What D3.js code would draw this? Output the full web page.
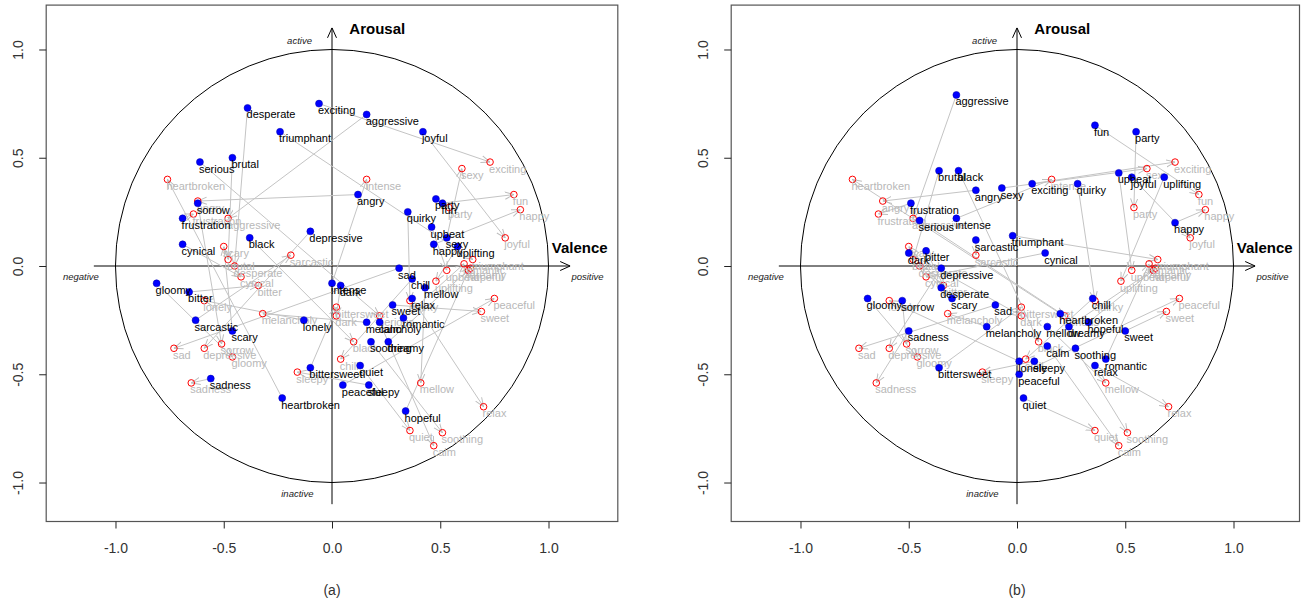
<!DOCTYPE html>
<html>
<head>
<meta charset="utf-8">
<title>Valence / Arousal</title>
<script src="https://d3js.org/d3.v7.min.js"></script>
<style>
  body { margin: 0; background: #fff; }
  svg { font-family: "Liberation Sans", Arial, sans-serif; }
</style>
</head>
<body>
<svg id="chart" width="1301" height="600"></svg>
<script>

// mood words, reference (red) positions and the two estimated (blue) sets
var words = ["heartbroken","angry","frustration","aggressive","scary","brutal","desperate","cynical","bitter","sarcastic",
  "melancholy","lonely","sad","depressive","sorrow","gloomy","sadness","sleepy","bittersweet","dark",
  "black","chill","serious","exciting","sexy","intense","fun","party","happy","joyful",
  "romantic","triumphant","hopeful","dreamy","upbeat","uplifting","quirky","peaceful","sweet","mellow",
  "relax","quiet","soothing","calm"];

var valenceTrue = [-0.76,-0.62,-0.64,-0.48,-0.50,-0.48,-0.45,-0.42,-0.34,-0.19,
  -0.32,-0.59,-0.73,-0.59,-0.51,-0.46,-0.65,-0.16,0.02,0.02,
  0.10,0.04,0.22,0.73,0.60,0.16,0.84,0.54,0.87,0.80,
  0.61,0.65,0.63,0.64,0.53,0.48,0.36,0.75,0.69,0.41,
  0.70,0.36,0.51,0.47];
var arousalTrue = [0.40,0.30,0.24,0.22,0.09,0.03,0.00,-0.05,-0.09,0.05,
  -0.22,-0.16,-0.38,-0.38,-0.36,-0.42,-0.54,-0.49,-0.19,-0.23,
  -0.35,-0.43,-0.23,0.48,0.45,0.40,0.33,0.27,0.26,0.13,
  0.01,0.03,-0.02,-0.01,-0.02,-0.07,-0.16,-0.15,-0.21,-0.54,
  -0.65,-0.76,-0.77,-0.83];

// panel (a)
var valenceA = [-0.23,0.12,-0.69,0.16,-0.46,-0.46,-0.39,-0.69,-0.66,-0.63,
  0.16,-0.13,0.31,-0.10,-0.62,-0.81,-0.56,0.17,-0.10,0.04,
  -0.38,0.37,-0.61,-0.06,0.53,0.00,0.51,0.48,0.47,0.42,
  0.33,-0.24,0.34,0.26,0.46,0.58,0.35,0.05,0.28,0.43,
  0.37,0.13,0.18,0.22];
var arousalA = [-0.61,0.33,0.22,0.70,-0.30,0.50,0.73,0.10,-0.12,-0.25,
  -0.26,-0.25,-0.01,0.16,0.29,-0.08,-0.52,-0.55,-0.47,-0.09,
  0.13,-0.06,0.48,0.75,0.13,-0.08,0.29,0.31,0.10,0.62,
  -0.24,0.62,-0.67,-0.35,0.18,0.09,0.25,-0.55,-0.18,-0.10,
  -0.15,-0.46,-0.35,-0.26];

// panel (b)
var valenceB = [0.20,-0.19,-0.49,-0.28,-0.30,-0.36,-0.35,0.13,-0.42,-0.19,
  -0.14,0.01,-0.10,-0.35,-0.53,-0.69,-0.50,0.08,-0.36,-0.50,
  -0.27,0.35,-0.45,0.07,-0.07,-0.28,0.36,0.55,0.73,0.53,
  0.41,-0.02,0.33,0.24,0.47,0.68,0.28,0.01,0.50,0.14,
  0.36,0.03,0.27,0.14];
var arousalB = [-0.22,0.35,0.29,0.79,-0.15,0.44,-0.10,0.06,0.07,0.12,
  -0.28,-0.44,-0.18,-0.01,-0.16,-0.15,-0.30,-0.44,-0.47,0.06,
  0.44,-0.15,0.21,0.38,0.36,0.22,0.65,0.62,0.20,0.41,
  -0.43,0.14,-0.26,-0.28,0.43,0.41,0.38,-0.50,-0.30,-0.28,
  -0.46,-0.61,-0.38,-0.37];

var tickValues = [-1.0, -0.5, 0.0, 0.5, 1.0];

var svg = d3.select("#chart");

svg.append("defs").append("marker")
    .attr("id", "head")
    .attr("viewBox", "0 0 10 10")
    .attr("refX", 10).attr("refY", 5)
    .attr("markerWidth", 9).attr("markerHeight", 9)
    .attr("markerUnits", "userSpaceOnUse")
    .attr("orient", "auto")
  .append("path")
    .attr("d", "M0,1 L10,5 L0,9")
    .attr("fill", "none")
    .attr("stroke", "#bdbdbd")
    .attr("stroke-width", 1.1);

svg.select("defs").append("marker")
    .attr("id", "axhead")
    .attr("viewBox", "0 0 10 10")
    .attr("refX", 10).attr("refY", 5)
    .attr("markerWidth", 10).attr("markerHeight", 10)
    .attr("markerUnits", "userSpaceOnUse")
    .attr("orient", "auto")
  .append("path")
    .attr("d", "M0,0.5 L10,5 L0,9.5")
    .attr("fill", "none")
    .attr("stroke", "#000")
    .attr("stroke-width", 1);

function drawPanel(left, valEst, aroEst, tag) {
  var x = d3.scaleLinear().domain([-1.32, 1.32]).range([left, left + 571.6]);
  var y = d3.scaleLinear().domain([-1.18, 1.205]).range([521.5, 5.1]);
  var g = svg.append("g");

  var boxRight = Math.min(x(1.32), 1299.5);
  g.append("rect")
      .attr("x", x(-1.32)).attr("y", y(1.205))
      .attr("width", boxRight - x(-1.32)).attr("height", y(-1.18) - y(1.205))
      .attr("fill", "none").attr("stroke", "#555").attr("stroke-width", 1.2);

  // axes
  var xa = g.append("g").attr("transform", "translate(0," + y(-1.18) + ")")
      .call(d3.axisBottom(x).tickValues(tickValues).tickSize(7).tickFormat(function(d){ return d.toFixed(1); }));
  var ya = g.append("g").attr("transform", "translate(" + x(-1.32) + ",0)")
      .call(d3.axisLeft(y).tickValues(tickValues).tickSize(7).tickFormat(function(d){ return d.toFixed(1); }));
  [xa, ya].forEach(function(a){
    a.select(".domain").remove();
    a.selectAll("line").attr("stroke", "#222");
    a.selectAll("text").attr("fill", "#333").style("font-size", "14px")
      .style("font-family", "'Liberation Sans', Arial, sans-serif");
  });
  xa.selectAll("text").attr("y", 22);
  ya.selectAll("text").attr("x", 0).attr("dy", 0).attr("text-anchor", "middle")
    .attr("transform", "translate(-23,0) rotate(-90)");

  // unit circle and cross
  g.append("circle").attr("cx", x(0)).attr("cy", y(0)).attr("r", x(1) - x(0))
      .attr("fill", "none").attr("stroke", "#000").attr("stroke-width", 1);
  g.append("line").attr("x1", x(-1.1)).attr("y1", y(0)).attr("x2", x(1.1)).attr("y2", y(0))
      .attr("stroke", "#000").attr("stroke-width", 1).attr("marker-end", "url(#axhead)");
  g.append("line").attr("x1", x(0)).attr("y1", y(-1.1)).attr("x2", x(0)).attr("y2", y(1.1))
      .attr("stroke", "#000").attr("stroke-width", 1).attr("marker-end", "url(#axhead)");

  g.append("text").attr("x", x(0.08)).attr("y", y(1.09) + 4).text("Arousal")
      .style("font-size", "15px").style("font-weight", "bold").attr("fill", "#000");
  g.append("text").attr("x", x(1.015)).attr("y", y(0.08) + 4).text("Valence")
      .style("font-size", "15px").style("font-weight", "bold").attr("fill", "#000");
  var small = [["active", -0.15, 1.04], ["inactive", -0.16, -1.05], ["negative", -1.16, -0.05], ["positive", 1.18, -0.05]];
  g.selectAll("text.dir").data(small).enter().append("text").attr("class", "dir")
      .attr("x", function(d){ return x(d[1]); }).attr("y", function(d){ return y(d[2]) + 3.5; })
      .attr("text-anchor", "middle").style("font-size", "9.5px").style("font-style", "italic")
      .attr("fill", "#222").text(function(d){ return d[0]; });

  var idx = d3.range(words.length);

  // arrows from estimated to reference position
  g.selectAll("line.arr").data(idx).enter().append("line").attr("class", "arr")
      .attr("x1", function(i){ return x(valEst[i]); })
      .attr("y1", function(i){ return y(aroEst[i]); })
      .attr("x2", function(i){ return x(valenceTrue[i]); })
      .attr("y2", function(i){ return y(arousalTrue[i]); })
      .attr("stroke", "#c4c4c4").attr("stroke-width", 1)
      .attr("marker-end", "url(#head)");

  // reference points
  g.selectAll("circle.ref").data(idx).enter().append("circle").attr("class", "ref")
      .attr("cx", function(i){ return x(valenceTrue[i]); })
      .attr("cy", function(i){ return y(arousalTrue[i]); })
      .attr("r", 3.3).attr("fill", "none").attr("stroke", "#ff0000").attr("stroke-width", 1);
  g.selectAll("text.ref").data(idx).enter().append("text").attr("class", "ref")
      .attr("x", function(i){ return x(valenceTrue[i]) - 1; })
      .attr("y", function(i){ return y(arousalTrue[i]) + 10.5; })
      .style("font-size", "11px").attr("fill", "#b8b8b8")
      .text(function(i){ return words[i]; });

  // estimated points
  g.selectAll("circle.est").data(idx).enter().append("circle").attr("class", "est")
      .attr("cx", function(i){ return x(valEst[i]); })
      .attr("cy", function(i){ return y(aroEst[i]); })
      .attr("r", 3.5).attr("fill", "#0000ff").attr("stroke", "#0000aa").attr("stroke-width", 0.5);
  g.selectAll("text.est").data(idx).enter().append("text").attr("class", "est")
      .attr("x", function(i){ return x(valEst[i]) - 1; })
      .attr("y", function(i){ return y(aroEst[i]) + 10.5; })
      .style("font-size", "11px").attr("fill", "#000")
      .text(function(i){ return words[i]; });

  g.append("text").attr("x", x(0)).attr("y", 595).attr("text-anchor", "middle")
      .style("font-size", "14px").attr("fill", "#333").text(tag);
}

drawPanel(46.2, valenceA, arousalA, "(a)");
drawPanel(731.2, valenceB, arousalB, "(b)");

</script>
</body>
</html>
